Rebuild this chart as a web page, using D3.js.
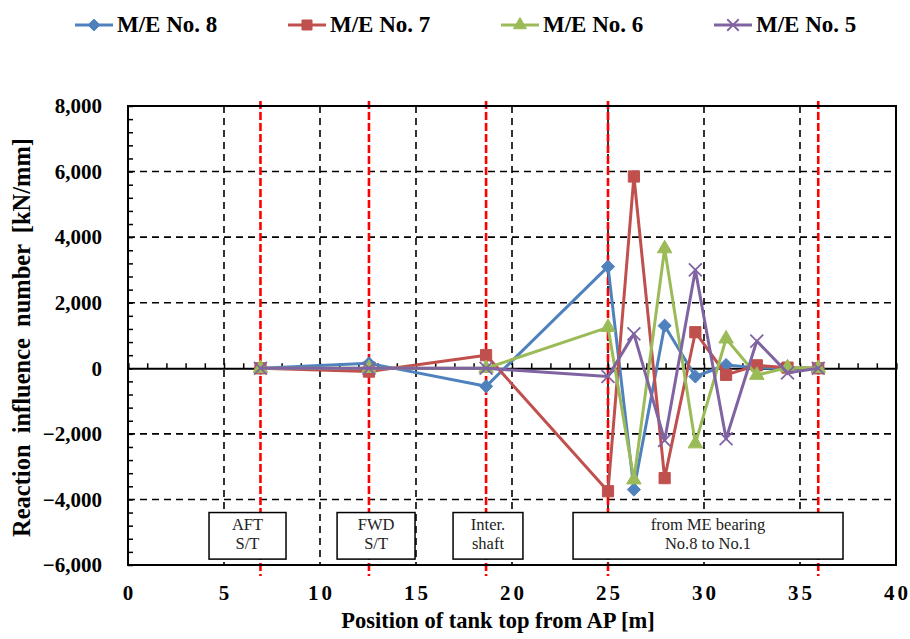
<!DOCTYPE html>
<html>
<head>
    <meta charset="UTF-8">
    <title>Reaction influence number</title>
    <script src="https://d3js.org/d3.v7.min.js"></script>
    <style>
        body {
            background-color: #ffffff;
            margin: 0;
            padding: 0;
        }
        text {
            font-family: 'Liberation Serif', 'Times New Roman', serif;
        }
    </style>
</head>
<body>
    <svg width="910" height="639"></svg>

    <script>
        // tank top positions from AP [m]
        const positions = [6.9, 12.55, 18.65, 25.0, 26.35, 27.95, 29.55, 31.15, 32.75, 34.35, 35.95];
        const me8 = [0, 150, -550, 3100, -3700, 1300, -250, 100, 20, 0, 0];
        const me7 = [0, -100, 400, -3750, 5850, -3350, 1100, -200, 90, 20, 0];
        const me6 = [0, 0, 0, 1250, -3400, 3650, -2300, 900, -210, 20, 0];
        const me5 = [0, 0, 0, -250, 1050, -2200, 3000, -2150, 830, -140, 0];
        const seriesNames = ["M/E No. 8", "M/E No. 7", "M/E No. 6", "M/E No. 5"];
        const xTicks = [0, 5, 10, 15, 20, 25, 30, 35, 40];
        const yTicks = [-6000, -4000, -2000, 0, 2000, 4000, 6000, 8000];
        const bearingLines = [6.9, 12.55, 18.65, 25.0, 35.95];
        const boxLabels = [["AFT", "S/T"], ["FWD", "S/T"], ["Inter.", "shaft"], ["from ME bearing", "No.8 to No.1"]];
        const boxSpans = [[4.22, 8.23], [10.89, 14.95], [16.93, 20.57], [23.18, 37.24]];

        const colors = ["#4F81BD", "#C0504D", "#9BBB59", "#8064A2"];
        const symbols = [d3.symbolDiamond2, d3.symbolSquare2, d3.symbolTriangle2, d3.symbolX];
        const symSizes = [110, 160, 150, 110];

        const svg = d3.select("svg");
        const pLeft = 128, pRight = 896, pTop = 106, pBottom = 565;

        const x = d3.scaleLinear().domain([0, 40]).range([pLeft, pRight]);
        const y = d3.scaleLinear().domain([-6000, 8000]).range([pBottom, pTop]);

        // grid
        const grid = svg.append("g");
        grid.selectAll(".vg").data(xTicks.filter(d => d > 0 && d < 40)).enter()
            .append("line")
            .attr("x1", d => x(d)).attr("x2", d => x(d))
            .attr("y1", pTop).attr("y2", pBottom)
            .attr("stroke", "#000").attr("stroke-width", 1.6)
            .attr("stroke-dasharray", "7,5");
        grid.selectAll(".hg").data(yTicks.filter(d => d !== 0 && d > -6000 && d < 8000)).enter()
            .append("line")
            .attr("x1", pLeft).attr("x2", pRight)
            .attr("y1", d => y(d)).attr("y2", d => y(d))
            .attr("stroke", "#000").attr("stroke-width", 1.6)
            .attr("stroke-dasharray", "7,5");

        // red bearing lines
        svg.append("g").selectAll("line").data(bearingLines).enter()
            .append("line")
            .attr("x1", d => x(d)).attr("x2", d => x(d))
            .attr("y1", pTop - 5).attr("y2", pBottom + 11)
            .attr("stroke", "#FF0000").attr("stroke-width", 2.6)
            .attr("stroke-dasharray", "8,3");

        // annotation boxes
        const boxes = svg.append("g");
        boxLabels.forEach((lab, i) => {
            const x0 = x(boxSpans[i][0]), x1 = x(boxSpans[i][1]);
            const y0 = y(-4400), y1 = y(-5820);
            boxes.append("rect")
                .attr("x", x0).attr("y", y0)
                .attr("width", x1 - x0).attr("height", y1 - y0)
                .attr("fill", "#fff").attr("stroke", "#000").attr("stroke-width", 1.5);
            lab.forEach((t, j) => {
                boxes.append("text")
                    .attr("x", (x0 + x1) / 2)
                    .attr("y", y0 + 17.5 + j * 19)
                    .attr("text-anchor", "middle")
                    .attr("font-size", "16.5px")
                    .attr("fill", "#222")
                    .text(t);
            });
        });

        // plot border
        svg.append("rect")
            .attr("x", pLeft).attr("y", pTop)
            .attr("width", pRight - pLeft).attr("height", pBottom - pTop)
            .attr("fill", "none").attr("stroke", "#000").attr("stroke-width", 2);

        // y axis minor ticks
        const yAxis = d3.axisRight(y)
            .tickValues(d3.range(-6000, 8001, 400))
            .tickSize(5).tickFormat("");
        svg.append("g").attr("transform", `translate(${pLeft},0)`).call(yAxis)
            .call(g => g.select(".domain").remove())
            .selectAll("line").attr("stroke", "#000").attr("stroke-width", 1.5);

        // x axis at y = 0
        const xAxis = d3.axisTop(x)
            .tickValues(d3.range(0, 41, 1))
            .tickSize(5).tickFormat("");
        svg.append("g").attr("transform", `translate(0,${y(0)})`).call(xAxis)
            .call(g => g.select(".domain").attr("stroke", "#000").attr("stroke-width", 2))
            .selectAll("line").attr("stroke", "#000").attr("stroke-width", 1.5);

        // tick labels
        svg.append("g").selectAll("text").data(yTicks).enter()
            .append("text")
            .attr("x", 102).attr("y", d => y(d))
            .attr("dy", "0.35em")
            .attr("text-anchor", "end")
            .attr("font-size", "21px").attr("font-weight", "bold")
            .text(d => d3.format(",")(d));
        svg.append("g").selectAll("text").data(xTicks).enter()
            .append("text")
            .attr("x", d => x(d) + 1.5).attr("y", 600)
            .attr("text-anchor", "middle")
            .attr("letter-spacing", "3px")
            .attr("font-size", "21px").attr("font-weight", "bold")
            .text(d => d);

        // axis titles
        svg.append("text")
            .attr("x", 498).attr("y", 628)
            .attr("text-anchor", "middle")
            .attr("font-size", "22.5px").attr("font-weight", "bold")
            .text("Position of tank top from AP [m]");
        svg.append("text")
            .attr("transform", `translate(30,${(pTop + pBottom) / 2 + 2}) rotate(-90)`)
            .attr("text-anchor", "middle")
            .attr("font-size", "24.5px").attr("font-weight", "bold")
            .attr("word-spacing", "5px")
            .text("Reaction influence number [kN/mm]");

        // series
        const allSeries = [me8, me7, me6, me5];
        const line = d3.line().x(d => x(d[0])).y(d => y(d[1]));
        allSeries.forEach((vals, i) => {
            const pts = positions.map((p, k) => [p, vals[k]]);
            const g = svg.append("g");
            g.append("path").datum(pts)
                .attr("d", line)
                .attr("fill", "none")
                .attr("stroke", colors[i]).attr("stroke-width", 3)
                .attr("stroke-linejoin", "round");
            g.selectAll("path.m").data(pts).enter()
                .append("path").attr("class", "m")
                .attr("transform", d => `translate(${x(d[0])},${y(d[1])})`)
                .attr("d", d3.symbol().type(symbols[i]).size(symSizes[i]))
                .attr("fill", i === 3 ? "none" : colors[i])
                .attr("stroke", colors[i])
                .attr("stroke-width", i === 3 ? 1.8 : 1);
        });

        // legend
        const legend = svg.append("g");
        seriesNames.forEach((name, i) => {
            const lx = 75 + i * 213, ly = 25;
            legend.append("line")
                .attr("x1", lx).attr("x2", lx + 38)
                .attr("y1", ly).attr("y2", ly)
                .attr("stroke", colors[i]).attr("stroke-width", 3);
            legend.append("path")
                .attr("transform", `translate(${lx + 19},${ly})`)
                .attr("d", d3.symbol().type(symbols[i]).size(symSizes[i] * 0.8))
                .attr("fill", i === 3 ? "none" : colors[i])
                .attr("stroke", colors[i])
                .attr("stroke-width", i === 3 ? 1.8 : 1);
            legend.append("text")
                .attr("x", lx + 42).attr("y", ly + 7)
                .attr("font-size", "23px").attr("font-weight", "bold")
                .text(name);
        });
    </script>
</body>
</html>
